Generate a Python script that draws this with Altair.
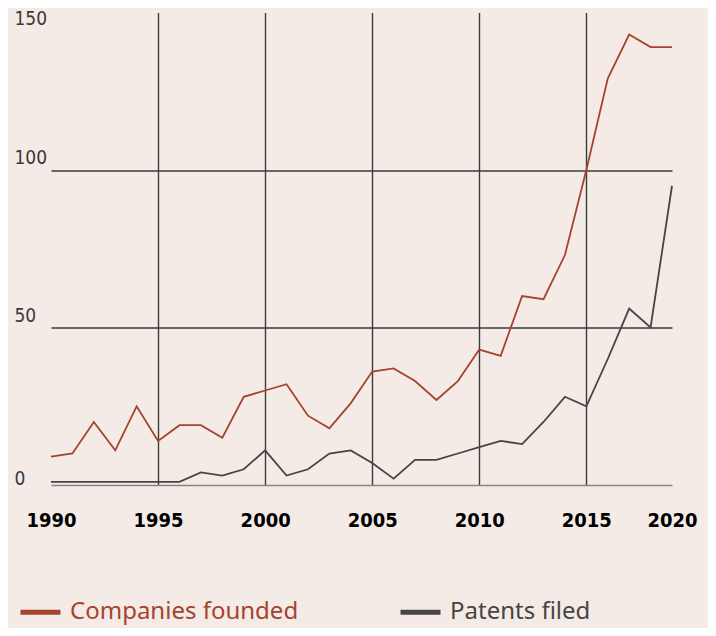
import altair as alt
import pandas as pd

years = list(range(1990, 2020))
companies = [9, 10, 20, 11, 25, 14, 19, 19, 15, 28,
             30, 32, 22, 18, 26, 36, 37, 33, 27, 33,
             43, 41, 60, 59, 73, 100, 129, 143, 139, 139]
patents = [1, 1, 1, 1, 1, 1, 1, 4, 3, 5,
           11, 3, 5, 10, 11, 7, 2, 8, 8, 10,
           12, 14, 13, 20, 28, 25, 40, 56, 50, 95]
series_names = ["Companies founded", "Patents filed"]
series_colors = ["#a5432f", "#454545"]
x_tick_values = [1990, 1995, 2000, 2005, 2010, 2015, 2019]
y_tick_values = [0, 50, 100, 150]

rows = []
for name, vals in zip(series_names, [companies, patents]):
    for y, v in zip(years, vals):
        rows.append({"year": y, "value": v, "series": name})
df = pd.DataFrame(rows)

chart = alt.Chart(df).mark_line(strokeJoin="miter", strokeWidth=1.8).encode(
    x=alt.X("year:Q",
            scale=alt.Scale(domain=[1990, 2019], nice=False, zero=False),
            axis=alt.Axis(values=x_tick_values, title=None, format="d",
                          labelExpr="datum.value == 2019 ? '2020' : datum.label",
                          grid=True,
                          gridOpacity={"condition": {"test": "datum.value == 1990 || datum.value == 2019", "value": 0}, "value": 1},
                          gridColor="#3b3b3b", gridWidth=1.4,
                          ticks=False, domain=True, domainColor="#858585", domainWidth=1.6,
                          labelFont="DejaVu Sans Condensed, Roboto Condensed, Roboto", labelFontWeight="bold",
                          labelFontSize=20, labelColor="#000000", labelPadding=25,
                          labelBaseline="top", labelFlush=False)),
    y=alt.Y("value:Q",
            scale=alt.Scale(domain=[0, 150], nice=False),
            axis=alt.Axis(values=y_tick_values, title=None, grid=True,
                          gridOpacity={"condition": {"test": "datum.value == 50 || datum.value == 100", "value": 1}, "value": 0},
                          gridColor="#3b3b3b", gridWidth=1.4,
                          ticks=False, domain=False,
                          labelFont="DejaVu Sans Condensed, Roboto Condensed, Roboto", labelFontSize=19,
                          labelColor="#3a3a3a", labelAlign="left", labelPadding=37,
                          labelBaseline="alphabetic", labelFlush=False,
                          labelOffset={"expr": "datum.value == 150 ? 11.5 : (datum.value == 0 ? -1 : -6.5)"})),
    color=alt.Color("series:N",
                    scale=alt.Scale(domain=series_names, range=series_colors),
                    legend=alt.Legend(title=None, orient="none", legendX=-33, legendY=577,
                                      direction="horizontal", columns=2,
                                      symbolType="stroke", symbolSize=1600, symbolStrokeWidth=5,
                                      labelFont="Noto Sans", labelFontSize=24,
                                      labelColor={"expr": "datum.label == 'Companies founded' ? '#a5432f' : '#454545'"},
                                      labelOffset=7, columnPadding=91, labelLimit=400)),
).properties(
    width=621, height=472.5,
    background="#f4ebe7",
    autosize=alt.AutoSizeParams(type="none"),
    padding={"left": 43, "top": 4.5, "right": 36, "bottom": 143},
).configure_view(stroke=None)

chart.save("out.html", embed_options={"renderer": "svg", "actions": False})
